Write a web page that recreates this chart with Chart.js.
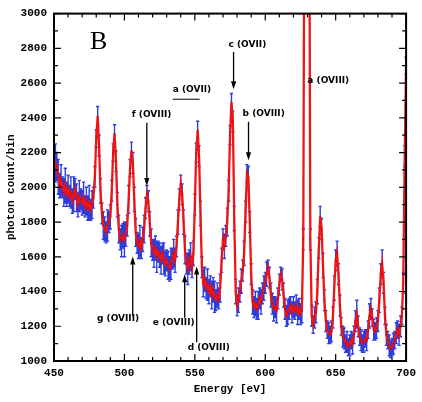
<!DOCTYPE html>
<html>
<head>
<meta charset="utf-8">
<script src="https://cdn.jsdelivr.net/npm/chart.js@4.4.1/dist/chart.umd.min.js"></script>
<style>
  html, body { margin: 0; padding: 0; background: #fff; }
  canvas { display: block; }
</style>
</head>
<body>
<canvas id="spectrum" width="422" height="402" style="width:422px;height:402px"></canvas>
<script>
// Spectrum bins: 1 eV wide, first bin at 450 eV
const binStart = 450;
const binWidth = 1;

// photon counts per bin (one row = 10 eV)
const counts = [
  2100, 2140, 2120, 2060, 2010, 2040, 2000, 1970, 2010, 1960, // 450
  1990, 1950, 1970, 1920, 1960, 1990, 1940, 1900, 1950, 1930, // 460
  1910, 1940, 1890, 1920, 1880, 1910, 1870, 1900, 1940, 2060, // 470
  2280, 2410, 2240, 1980, 1850, 1780, 1760, 1740, 1780, 1800, // 480
  1830, 1980, 2200, 2310, 2150, 1900, 1760, 1700, 1690, 1720, // 490
  1700, 1730, 1780, 1930, 2110, 2210, 2140, 1930, 1740, 1680, // 500
  1660, 1690, 1650, 1700, 1760, 1880, 1960, 1920, 1790, 1680, // 510
  1640, 1620, 1650, 1600, 1630, 1610, 1580, 1620, 1590, 1560, // 520
  1580, 1550, 1530, 1560, 1590, 1620, 1580, 1660, 1800, 1930, // 530
  2020, 1960, 1800, 1640, 1560, 1530, 1570, 1600, 1540, 1620, // 540
  1900, 2200, 2330, 2180, 1850, 1540, 1450, 1470, 1420, 1440, // 550
  1400, 1430, 1380, 1410, 1370, 1350, 1380, 1360, 1420, 1580, // 560
  1700, 1660, 1720, 1800, 1980, 2300, 2490, 2380, 1820, 1400, // 570
  1320, 1350, 1400, 1460, 1520, 1620, 1860, 2080, 2060, 1800, // 580
  1500, 1340, 1310, 1330, 1300, 1320, 1360, 1340, 1390, 1420, // 590
  1450, 1500, 1540, 1480, 1380, 1330, 1300, 1310, 1290, 1360, // 600
  1440, 1500, 1470, 1380, 1300, 1260, 1280, 1300, 1320, 1280, // 610
  1310, 1290, 1320, 1280, 1300, 1270, 1290, 1700, 4400, 7200, // 620
  7200, 4400, 1700, 1260, 1210, 1250, 1280, 1400, 1650, 1830, // 630
  1760, 1550, 1350, 1230, 1180, 1160, 1150, 1170, 1250, 1420, // 640
  1580, 1620, 1500, 1320, 1200, 1140, 1130, 1100, 1110, 1080, // 650
  1090, 1120, 1100, 1150, 1230, 1270, 1200, 1140, 1120, 1100, // 660
  1110, 1130, 1120, 1180, 1260, 1300, 1250, 1180, 1170, 1190, // 670
  1230, 1350, 1500, 1560, 1450, 1260, 1150, 1120, 1090, 1070, // 680
  1080, 1100, 1120, 1160, 1180, 1150, 1200, 1260, 1450, 2180, // 690
  2700                                                        // 700
];

// 1-sigma error per bin
const errors = [
  90, 110, 80, 100, 70, 90, 60, 80, 100, 70,
  80, 60, 90, 70, 100, 60, 80, 70, 90, 60,
  70, 90, 60, 80, 70, 100, 60, 80, 60, 60,
  50, 55, 60, 70, 60, 80, 70, 60, 90, 60,
  70, 60, 50, 50, 60, 70, 80, 60, 90, 70,
  100, 70, 60, 80, 50, 50, 60, 70, 80, 60,
  70, 90, 60, 70, 80, 60, 50, 60, 70, 80,
  60, 80, 70, 90, 60, 70, 80, 60, 90, 70,
  60, 80, 70, 90, 60, 80, 70, 60, 70, 60,
  50, 60, 70, 80, 60, 90, 70, 80, 60, 70,
  60, 55, 50, 60, 70, 60, 80, 70, 60, 90,
  70, 60, 80, 70, 90, 60, 70, 60, 80, 70,
  60, 70, 60, 80, 60, 55, 50, 60, 70, 70,
  60, 70, 60, 70, 60, 70, 60, 50, 60, 60,
  60, 70, 60, 70, 60, 80, 60, 70, 60, 70,
  60, 70, 40, 60, 70, 60, 70, 60, 70, 60,
  60, 40, 60, 70, 60, 60, 70, 60, 50, 60,
  60, 50, 60, 70, 60, 60, 70, 60, 60, 60,
  60, 60, 60, 60, 50, 60, 60, 70, 60, 60,
  60, 70, 60, 60, 50, 60, 50, 60, 60, 70,
  60, 70, 60, 60, 50, 60, 60, 50, 60, 50,
  60, 50, 60, 50, 60, 80, 60, 50, 60, 50,
  60, 50, 60, 50, 70, 60, 50, 60, 50, 60,
  60, 70, 60, 80, 60, 50, 60, 50, 60, 50,
  50, 60, 50, 60, 50, 60, 60, 50, 60, 60,
  50
];

// line identifications
const lineLabels = ['a (OVII)', 'f (OVIII)', 'c (OVII)', 'b (OVIII)', 'a (OVIII)', 'g (OVIII)', 'e (OVIII)', 'd (OVIII)'];

// where each label sits, in data units [eV, counts]; arrow = [eV, from, to]
const labelPlacement = [
  { at: [534.3, 2564], underline: [534.3, 553.4, 2507] },
  { at: [505.2, 2416], arrow: [515.9, 2371, 2008] },
  { at: [573.9, 2819], arrow: [577.5, 2779, 2564] },
  { at: [583.9, 2422], arrow: [588.1, 2377, 2156] },
  { at: [629.9, 2615] },
  { at: [480.5, 1244], arrow: [505.9, 1261, 1601] },
  { at: [520.1, 1221], arrow: [542.8, 1249, 1499] },
  { at: [544.9, 1074], arrow: [551.3, 1108, 1544] }
];

const axisFont = { family: 'Liberation Mono', size: 11, weight: 'bold' };

const points = counts.map((c, i) => ({ x: binStart + i * binWidth, y: c }));

// blue error bars, drawn under the red line
const errorBars = {
  id: 'errorBars',
  beforeDatasetsDraw(chart) {
    const { ctx, chartArea: a, scales: { x, y } } = chart;
    ctx.save();
    ctx.beginPath();
    ctx.rect(a.left, a.top, a.right - a.left, a.bottom - a.top);
    ctx.clip();
    ctx.strokeStyle = '#2a3de0';
    ctx.lineWidth = 1.4;
    ctx.beginPath();
    points.forEach((p, i) => {
      const px = x.getPixelForValue(p.x);
      const top = y.getPixelForValue(p.y + errors[i]);
      const bot = y.getPixelForValue(p.y - errors[i]);
      ctx.moveTo(px, top); ctx.lineTo(px, bot);
      ctx.moveTo(px - 1.6, top); ctx.lineTo(px + 1.6, top);
      ctx.moveTo(px - 1.6, bot); ctx.lineTo(px + 1.6, bot);
    });
    ctx.stroke();
    ctx.restore();
  }
};

// closed frame with inward ticks on all four sides
const frame = {
  id: 'frame',
  afterDatasetsDraw(chart) {
    const { ctx, chartArea: a, scales: { x, y } } = chart;
    ctx.save();
    ctx.strokeStyle = '#000';
    ctx.lineWidth = 1.2;
    ctx.beginPath();
    for (let e = x.min; e <= x.max; e += 10) {
      const px = x.getPixelForValue(e);
      const len = (e - x.min) % 50 === 0 ? 7 : 4;
      ctx.moveTo(px, a.bottom); ctx.lineTo(px, a.bottom - len);
      ctx.moveTo(px, a.top); ctx.lineTo(px, a.top + len);
    }
    for (let v = y.min; v <= y.max; v += 100) {
      const py = y.getPixelForValue(v);
      const len = (v - y.min) % 200 === 0 ? 7 : 4;
      ctx.moveTo(a.left, py); ctx.lineTo(a.left + len, py);
      ctx.moveTo(a.right, py); ctx.lineTo(a.right - len, py);
    }
    ctx.stroke();
    ctx.lineWidth = 2;
    ctx.strokeRect(a.left, a.top, a.right - a.left, a.bottom - a.top);
    ctx.restore();
  },
  afterDraw(chart) {
    const { ctx, scales: { x, y } } = chart;
    ctx.save();
    ctx.fillStyle = '#000';
    ctx.strokeStyle = '#000';

    // panel letter
    ctx.font = '26px "Liberation Serif"';
    ctx.textBaseline = 'middle';
    ctx.fillText('B', x.getPixelForValue(475.5), y.getPixelForValue(2836));

    ctx.font = 'bold 9px "DejaVu Sans"';
    lineLabels.forEach((txt, i) => {
      const p = labelPlacement[i];
      ctx.fillText(txt, x.getPixelForValue(p.at[0]), y.getPixelForValue(p.at[1]));
      if (p.underline) {
        const uy = y.getPixelForValue(p.underline[2]);
        ctx.lineWidth = 1;
        ctx.beginPath();
        ctx.moveTo(x.getPixelForValue(p.underline[0]), uy);
        ctx.lineTo(x.getPixelForValue(p.underline[1]), uy);
        ctx.stroke();
      }
      if (p.arrow) {
        const ax = x.getPixelForValue(p.arrow[0]);
        const y0 = y.getPixelForValue(p.arrow[1]);
        const y1 = y.getPixelForValue(p.arrow[2]);
        const dir = y1 > y0 ? 1 : -1;
        ctx.lineWidth = 1.3;
        ctx.beginPath();
        ctx.moveTo(ax, y0);
        ctx.lineTo(ax, y1 - dir * 6);
        ctx.stroke();
        ctx.beginPath();
        ctx.moveTo(ax, y1);
        ctx.lineTo(ax - 2.6, y1 - dir * 8);
        ctx.lineTo(ax + 2.6, y1 - dir * 8);
        ctx.closePath();
        ctx.fill();
      }
    });
    ctx.restore();
  }
};

new Chart(document.getElementById('spectrum'), {
  type: 'line',
  data: {
    datasets: [{
      data: points,
      borderColor: '#f01414',
      borderWidth: 2.3,
      pointRadius: 0.8,
      pointBorderWidth: 0,
      pointBackgroundColor: '#c00808',
      tension: 0
    }]
  },
  options: {
    responsive: false,
    animation: false,
    devicePixelRatio: 1,
    layout: { padding: { top: 8, right: 15, left: 0, bottom: 0 } },
    plugins: { legend: { display: false }, tooltip: { enabled: false } },
    scales: {
      x: {
        type: 'linear',
        min: 450,
        max: 700,
        grid: { display: false, drawTicks: false },
        border: { display: false },
        ticks: { stepSize: 50, color: '#000', font: axisFont, padding: 6, maxRotation: 0, callback: v => String(v) },
        title: { display: true, text: 'Energy [eV]', color: '#000', font: axisFont, padding: { top: 0, bottom: 6 } },
        afterFit: s => { s.height = 41; }
      },
      y: {
        min: 1000,
        max: 3000,
        grid: { display: false, drawTicks: false },
        border: { display: false },
        ticks: { stepSize: 200, color: '#000', font: axisFont, padding: 7, callback: v => String(v) },
        title: { display: true, text: 'photon count/bin', color: '#000', font: axisFont, padding: { top: 5, bottom: 0 } },
        afterFit: s => { s.width = 54; }
      }
    }
  },
  plugins: [errorBars, frame]
});
</script>
</body>
</html>
